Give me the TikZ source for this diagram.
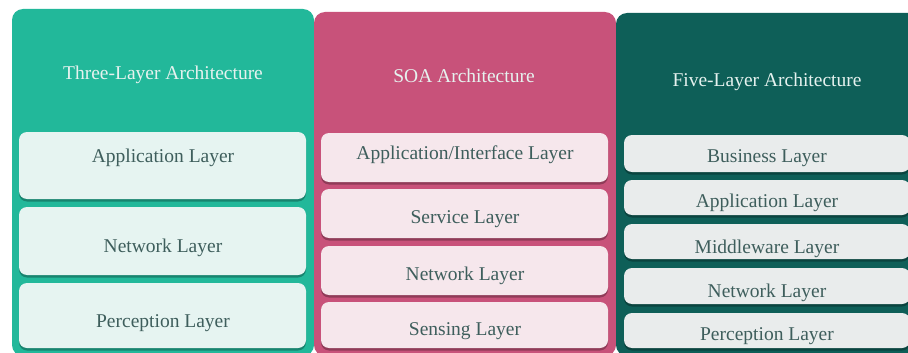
\documentclass[tikz,border=0pt]{standalone}
\usepackage{fontspec}
\setmainfont{Liberation Serif}
\begin{document}
\begin{tikzpicture}[x=1pt,y=-1pt]
\definecolor{pA}{HTML}{22B89A}
\definecolor{pAin}{HTML}{E6F4F1}
\definecolor{pB}{HTML}{C8527A}
\definecolor{pBin}{HTML}{F6E7EC}
\definecolor{pC}{HTML}{0E5F58}
\definecolor{pCin}{HTML}{E9ECEC}
\definecolor{txt}{HTML}{3E5E5C}
\definecolor{ttl}{HTML}{E6F2EF}
\tikzset{
  panel/.style={rounded corners=11pt},
  layerbox/.style={rounded corners=8pt},
  shadowbox/.style={rounded corners=8pt, fill=black, fill opacity=0.28},
  title/.style={font=\fontsize{19.5}{22}\selectfont, text=ttl, anchor=base, inner sep=0pt},
  label/.style={font=\fontsize{19.5}{22}\selectfont, text=txt, anchor=base, inner sep=0pt}
}
\useasboundingbox (0,0) rectangle (908,353);
\clip (0,0) rectangle (908,353);
\fill[white] (0,0) rectangle (908,353);
% panels
\fill[pA,panel] (12,9) rectangle (314,356);
\fill[pB,panel] (314,12) rectangle (616,356);
\fill[pC,panel] (616,13) rectangle (920,356);
% titles
\node[title] (t1) at (163,80) {Three-Layer Architecture};
\node[title] (t2) at (464,82) {SOA Architecture};
\node[title] (t3) at (767,86) {Five-Layer Architecture};
% panel 1 boxes
\foreach \ya/\yb in {132/199, 207/275, 283/348} {
  \fill[shadowbox] (19,\ya+2) rectangle (306,\yb+2.5);
  \fill[pAin,layerbox] (19,\ya) rectangle (306,\yb);
}
\node[label] (a1) at (163,162) {Application Layer};
\node[label] (a2) at (163,252) {Network Layer};
\node[label] (a3) at (163,327) {Perception Layer};
% panel 2 boxes
\foreach \ya/\yb in {133/182, 189/238, 246/295, 302/348} {
  \fill[shadowbox] (321,\ya+2) rectangle (608,\yb+2.5);
  \fill[pBin,layerbox] (321,\ya) rectangle (608,\yb);
}
\node[label] (b1) at (465,159) {Application/Interface Layer};
\node[label] (b2) at (465,223) {Service Layer};
\node[label] (b3) at (465,280) {Network Layer};
\node[label] (b4) at (465,335) {Sensing Layer};
% panel 3 boxes
\foreach \ya/\yb in {135/172, 180/215, 224/259, 268/304, 313/348} {
  \fill[shadowbox] (624,\ya+2) rectangle (910,\yb+2.5);
  \fill[pCin,layerbox] (624,\ya) rectangle (910,\yb);
}
\node[label] (c1) at (767,162) {Business Layer};
\node[label] (c2) at (767,207) {Application Layer};
\node[label] (c3) at (767,253) {Middleware Layer};
\node[label] (c4) at (767,297) {Network Layer};
\node[label] (c5) at (767,340) {Perception Layer};
\end{tikzpicture}
\end{document}
